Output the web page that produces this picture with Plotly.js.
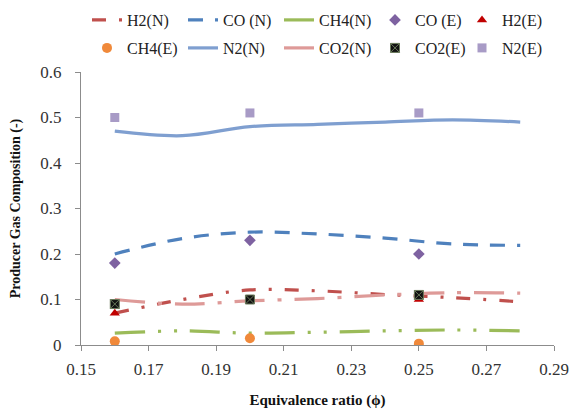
<!DOCTYPE html>
<html>
<head>
<meta charset="utf-8">
<script src="https://cdn.plot.ly/plotly-3.0.1.min.js"></script>
<style>html,body{margin:0;padding:0;background:#fff;}#chart{width:572px;height:417px;}</style>
</head>
<body>
<div id="chart"></div>
<script>
// Model (N) values at these equivalence ratios
const xModel = [0.16, 0.18, 0.20, 0.22, 0.24, 0.26, 0.28];
const h2N  = [0.070, 0.100, 0.121, 0.119, 0.111, 0.104, 0.095];
const coN  = [0.200, 0.234, 0.248, 0.244, 0.235, 0.222, 0.219];
const ch4N = [0.026, 0.031, 0.026, 0.028, 0.031, 0.033, 0.031];
const n2N  = [0.470, 0.460, 0.480, 0.485, 0.490, 0.495, 0.490];
const co2N = [0.100, 0.090, 0.097, 0.102, 0.110, 0.115, 0.114];
// Experimental (E) values
const xExp = [0.16, 0.20, 0.25];
const coE  = [0.18, 0.23, 0.20];
const h2E  = [0.07, 0.10, 0.10];
const ch4E = [0.008, 0.015, 0.003];
const co2E = [0.09, 0.10, 0.11];
const n2E  = [0.50, 0.51, 0.51];
// Axis ticks
const xTicks = [0.15, 0.17, 0.19, 0.21, 0.23, 0.25, 0.27, 0.29];
const xTickText = ['0.15','0.17','0.19','0.21','0.23','0.25','0.27','0.29'];
const yTicks = [0, 0.1, 0.2, 0.3, 0.4, 0.5, 0.6];
const yTickText = ['0','0.1','0.2','0.3','0.4','0.5','0.6'];

const serif = 'Liberation Serif, Times New Roman, serif';

function lineTrace(name, y, color, dash, legend) {
  return {x: xModel, y: y, name: name, type: 'scatter', mode: 'lines',
    line: {color: color, width: 3.2, dash: dash, shape: 'spline', smoothing: 1},
    legend: legend};
}
function markTrace(name, y, color, symbol, size, legend, lineColor) {
  return {x: xExp, y: y, name: name, type: 'scatter', mode: 'markers',
    marker: {color: color, symbol: symbol, size: size,
      line: {color: lineColor || color, width: lineColor ? 1 : 0}},
    legend: legend};
}

const traces = [
  lineTrace('H2(N)', h2N, '#C0504D', '14px,13px,3px,13px', 'legend'),
  lineTrace('CO (N)', coN, '#4F81BD', '15px,12px', 'legend'),
  lineTrace('CH4(N)', ch4N, '#9BBB59', '30px,13px,3px,13px,3px,13px', 'legend'),
  markTrace('CO (E)', coE, '#7E62A1', 'diamond', 9, 'legend'),
  markTrace('H2(E)', h2E, '#C00000', 'triangle-up', 9, 'legend3'),
  markTrace('CH4(E)', ch4E, '#F0893A', 'circle', 10, 'legend2'),
  lineTrace('N2(N)', n2N, '#7F9FD0', 'solid', 'legend2'),
  lineTrace('CO2(N)', co2N, '#DE9A98', '30px,13px,4px,13px', 'legend2'),
  markTrace('CO2(E)', co2E, '#111111', 'square-x', 9, 'legend2', '#6a7a5a'),
  markTrace('N2(E)', n2E, '#A89BC6', 'square', 9, 'legend4')
];

const legendCommon = {
  orientation: 'h', xref: 'container', yref: 'container',
  xanchor: 'left', yanchor: 'middle', entrywidth: 51, entrywidthmode: 'pixels',
  font: {family: serif, size: 16, color: '#222'}, bgcolor: 'rgba(0,0,0,0)',
  traceorder: 'normal', itemwidth: 30
};
const row1 = 1 - 20/417, row2 = 1 - 48/417;

const layout = {
  width: 572, height: 417,
  margin: {l: 81, r: 18, t: 72, b: 72},
  paper_bgcolor: '#ffffff', plot_bgcolor: '#ffffff',
  font: {family: serif, color: '#222'},
  showlegend: true,
  legend: Object.assign({}, legendCommon, {x: 87/572, y: row1}),
  legend3: Object.assign({}, legendCommon, {x: 462/572, y: row1}),
  legend2: Object.assign({}, legendCommon, {x: 87/572, y: row2}),
  legend4: Object.assign({}, legendCommon, {x: 462/572, y: row2}),
  xaxis: {
    range: [0.15, 0.29], tickvals: xTicks, ticktext: xTickText,
    showgrid: false, zeroline: false, showline: true, linecolor: '#8c8c8c', linewidth: 1,
    ticks: 'outside', ticklen: 5, tickcolor: '#8c8c8c', ticklabelstandoff: 4,
    tickfont: {family: serif, size: 17, color: '#333'},
    title: {text: '<b>Equivalence ratio (ϕ)</b>', font: {family: serif, size: 15, color: '#111'}, standoff: 16}
  },
  yaxis: {
    range: [0, 0.6], tickvals: yTicks, ticktext: yTickText,
    showgrid: false, zeroline: false, showline: true, linecolor: '#8c8c8c', linewidth: 1,
    ticks: 'outside', ticklen: 5, tickcolor: '#8c8c8c', ticklabelstandoff: 10,
    tickfont: {family: serif, size: 17, color: '#333'},
    title: {text: '<b>Producer Gas Composition (-)</b>', font: {family: serif, size: 14, color: '#111'}, standoff: 16}
  }
};

Plotly.newPlot('chart', traces, layout, {staticPlot: true, displayModeBar: false});
</script>
</body>
</html>
